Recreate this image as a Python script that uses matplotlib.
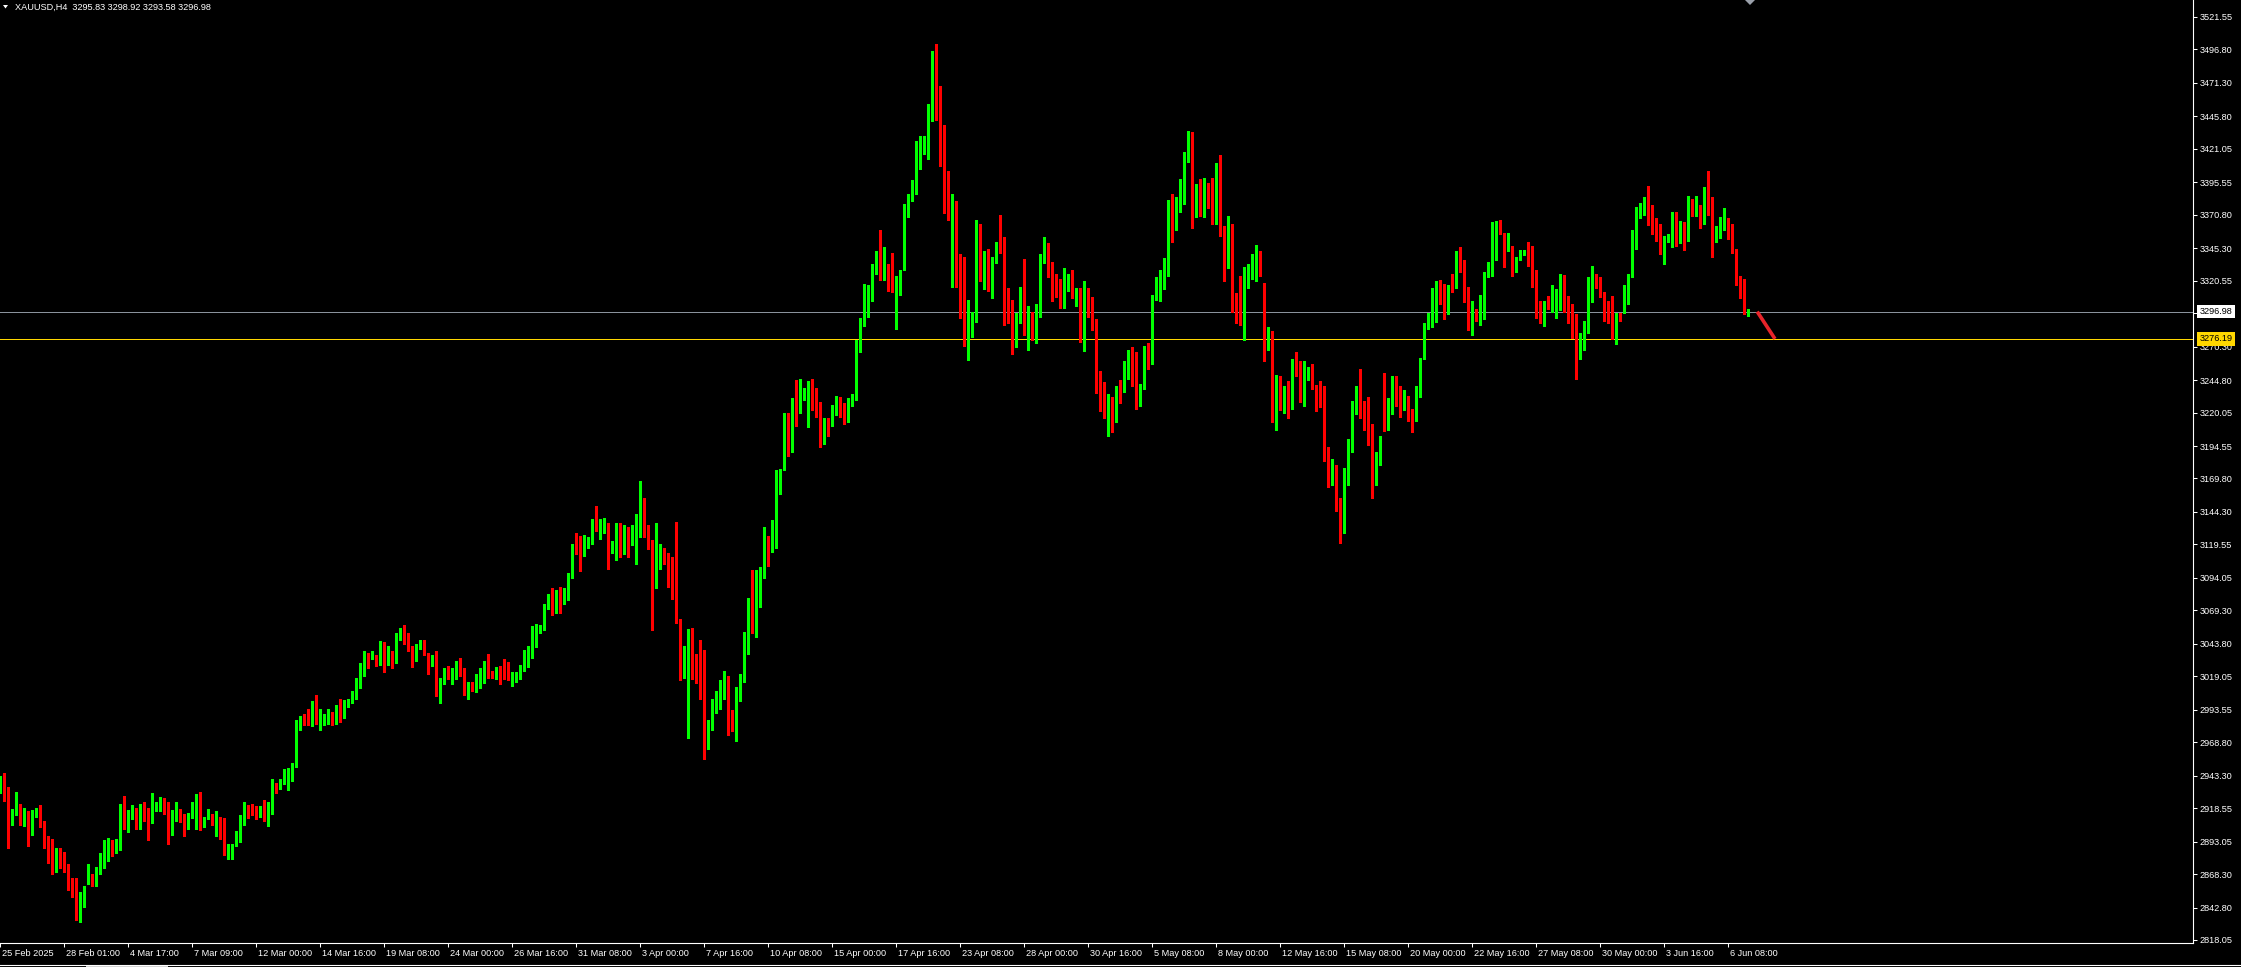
import matplotlib.pyplot as plt
import matplotlib.transforms as mtransforms
from matplotlib.lines import Line2D
from matplotlib.patches import Polygon, Rectangle
import numpy as np

#----- Data: XAUUSD H4 bars -----
opens = [
    2935, 2938, 2933, 2909, 2914, 2921, 2906, 2914, 2901, 2915,
    2916, 2907, 2894, 2893, 2872, 2888, 2877, 2874, 2864, 2863,
    2833, 2845, 2861, 2868, 2866, 2872, 2877, 2890, 2892, 2885,
    2887, 2915, 2903, 2911, 2918, 2903, 2917, 2913, 2909, 2917,
    2918, 2926, 2921, 2899, 2915, 2917, 2912, 2907, 2913, 2918,
    2927, 2906, 2911, 2912, 2909, 2912, 2904, 2886, 2888, 2890,
    2896, 2911, 2919, 2918, 2917, 2914, 2917, 2914, 2915, 2937,
    2933, 2938, 2940, 2948, 2950, 2979, 2988, 2988, 2986, 2999,
    2984, 2987, 2983, 2991, 2986, 2997, 2988, 2997, 3001, 3005,
    3012, 3020, 3034, 3033, 3034, 3029, 3045, 3030, 3034, 3029,
    3047, 3049, 3047, 3042, 3032, 3041, 3045, 3036, 3028, 3030,
    3006, 3013, 3023, 3021, 3021, 3024, 3023, 3007, 3013, 3012,
    3018, 3023, 3029, 3023, 3019, 3025, 3023, 3018, 3016, 3018,
    3019, 3023, 3029, 3040, 3041, 3053, 3057, 3073, 3078, 3072,
    3084, 3077, 3086, 3094, 3117, 3115, 3113, 3117, 3123, 3136,
    3131, 3132, 3134, 3113, 3114, 3134, 3118, 3132, 3122, 3123,
    3134, 3153, 3133, 3122, 3086, 3110, 3116, 3110, 3109, 3091,
    3063, 3025, 3023, 3039, 3032, 3025, 3016, 2970, 2982, 2999,
    3005, 3007, 3011, 2986, 2983, 3009, 3015, 3045, 3076, 3059,
    3080, 3094, 3123, 3117, 3117, 3163, 3176, 3208, 3196, 3228,
    3224, 3234, 3232, 3240, 3235, 3224, 3205, 3214, 3211, 3224,
    3225, 3223, 3213, 3228, 3230, 3270, 3290, 3304, 3311, 3328,
    3344, 3324, 3330, 3322, 3315, 3319, 3332, 3378, 3385, 3395,
    3420, 3423, 3426, 3453, 3495, 3455, 3419, 3403, 3337, 3380,
    3319, 3318, 3271, 3281, 3289, 3358, 3323, 3336, 3315, 3337,
    3352, 3346, 3295, 3293, 3281, 3293, 3326, 3281, 3295, 3275,
    3293, 3335, 3345, 3326, 3311, 3309, 3307, 3314, 3314, 3307,
    3310, 3275, 3310, 3306, 3290, 3240, 3237, 3218, 3225, 3214,
    3241, 3236, 3252, 3266, 3251, 3232, 3239, 3265, 3260, 3309,
    3315, 3316, 3336, 3381, 3362, 3383, 3392, 3415, 3433, 3374,
    3389, 3370, 3395, 3387, 3365, 3409, 3355, 3332, 3357, 3309,
    3308, 3291, 3321, 3325, 3330, 3342, 3309, 3271, 3282, 3215,
    3241, 3222, 3239, 3225, 3257, 3254, 3228, 3247, 3251, 3239,
    3234, 3233, 3188, 3170, 3178, 3150, 3130, 3170, 3193, 3220,
    3239, 3223, 3219, 3210, 3170, 3185, 3220, 3218, 3224, 3242,
    3231, 3226, 3231, 3221, 3214, 3236, 3261, 3286, 3290, 3295,
    3317, 3314, 3303, 3317, 3315, 3338, 3333, 3305, 3288, 3297,
    3294, 3305, 3323, 3329, 3340, 3363, 3355, 3344, 3347, 3329,
    3338, 3341, 3343, 3336, 3324, 3297, 3295, 3302, 3301, 3302,
    3307, 3325, 3306, 3297, 3288, 3263, 3272, 3281, 3313, 3325,
    3319, 3310, 3305, 3296, 3276, 3291, 3296, 3303, 3324, 3348,
    3370, 3374, 3384, 3373, 3366, 3358, 3345, 3354, 3355, 3372,
    3351, 3364, 3353, 3380, 3372, 3374, 3365, 3390, 3379, 3354,
    3355, 3364, 3366, 3358, 3344, 3324, 3314, 3295.83,
]
highs = [
    2943, 2945, 2935, 2918, 2931, 2922, 2919, 2916, 2917, 2919,
    2921, 2909, 2897, 2895, 2888, 2888, 2885, 2876, 2865, 2865,
    2855, 2859, 2876, 2868, 2874, 2884, 2894, 2896, 2894, 2895,
    2922, 2928, 2917, 2921, 2919, 2922, 2923, 2919, 2930, 2923,
    2927, 2926, 2923, 2917, 2923, 2918, 2914, 2915, 2923, 2929,
    2931, 2912, 2918, 2914, 2916, 2912, 2911, 2891, 2891, 2901,
    2913, 2923, 2921, 2922, 2920, 2920, 2925, 2923, 2941, 2938,
    2941, 2948, 2949, 2953, 2986, 2989, 2990, 2994, 3000, 3005,
    2994, 2990, 2994, 2992, 2997, 3002, 3001, 3002, 3008, 3018,
    3029, 3038, 3037, 3038, 3035, 3046, 3045, 3042, 3038, 3052,
    3056, 3058, 3052, 3042, 3044, 3047, 3047, 3037, 3035, 3038,
    3018, 3025, 3027, 3025, 3031, 3033, 3025, 3015, 3015, 3021,
    3025, 3031, 3036, 3023, 3026, 3027, 3032, 3030, 3022, 3022,
    3028, 3039, 3042, 3057, 3059, 3058, 3074, 3082, 3086, 3085,
    3087, 3086, 3098, 3120, 3128, 3126, 3127, 3125, 3139, 3149,
    3139, 3140, 3136, 3122, 3136, 3136, 3134, 3133, 3134, 3143,
    3168, 3155, 3134, 3123, 3136, 3120, 3117, 3113, 3110, 3137,
    3063, 3042, 3055, 3056, 3036, 3047, 3039, 2986, 3002, 3008,
    3016, 3023, 3019, 2993, 3011, 3021, 3053, 3079, 3100, 3100,
    3102, 3133, 3126, 3138, 3176, 3177, 3220, 3220, 3231, 3245,
    3246, 3239, 3244, 3246, 3239, 3228, 3216, 3216, 3226, 3233,
    3232, 3227, 3231, 3234, 3275, 3292, 3318, 3317, 3333, 3343,
    3359, 3346, 3333, 3342, 3324, 3329, 3379, 3387, 3397, 3427,
    3431, 3431, 3455, 3496, 3501, 3469, 3439, 3404, 3387, 3381,
    3341, 3339, 3306, 3297, 3367, 3364, 3343, 3345, 3339, 3350,
    3371, 3354, 3315, 3306, 3296, 3316, 3337, 3301, 3297, 3303,
    3341, 3354, 3349, 3335, 3326, 3322, 3330, 3326, 3329, 3315,
    3315, 3320, 3315, 3308, 3291, 3252, 3243, 3234, 3232, 3240,
    3245, 3259, 3268, 3270, 3266, 3242, 3271, 3273, 3310, 3323,
    3329, 3338, 3382, 3387, 3384, 3398, 3419, 3435, 3434, 3394,
    3398, 3399, 3395, 3399, 3410, 3416, 3362, 3370, 3364, 3311,
    3324, 3331, 3333, 3341, 3348, 3343, 3319, 3285, 3282, 3249,
    3248, 3240, 3244, 3261, 3266, 3259, 3259, 3255, 3257, 3241,
    3244, 3240, 3194, 3185, 3180, 3155, 3178, 3200, 3229, 3240,
    3253, 3229, 3232, 3211, 3190, 3202, 3250, 3231, 3248, 3248,
    3240, 3237, 3233, 3223, 3240, 3262, 3288, 3296, 3315, 3320,
    3321, 3318, 3317, 3326, 3343, 3346, 3336, 3316, 3305, 3299,
    3310, 3327, 3335, 3365, 3366, 3367, 3357, 3357, 3347, 3339,
    3344, 3344, 3350, 3347, 3329, 3305, 3305, 3309, 3317, 3314,
    3326, 3325, 3309, 3303, 3295, 3281, 3290, 3323, 3332, 3326,
    3323, 3312, 3305, 3309, 3296, 3296, 3317, 3326, 3359, 3377,
    3380, 3384, 3393, 3378, 3368, 3364, 3355, 3356, 3373, 3373,
    3366, 3365, 3385, 3383, 3385, 3378, 3392, 3404, 3384, 3362,
    3369, 3376, 3368, 3364, 3345, 3324, 3322, 3298.92,
]
lows = [
    2930, 2924, 2888, 2906, 2913, 2906, 2905, 2890, 2898, 2912,
    2904, 2888, 2877, 2868, 2870, 2873, 2870, 2856, 2851, 2833,
    2832, 2843, 2861, 2859, 2859, 2868, 2873, 2878, 2882, 2884,
    2887, 2903, 2900, 2910, 2903, 2903, 2909, 2894, 2907, 2916,
    2916, 2914, 2891, 2898, 2909, 2908, 2897, 2903, 2911, 2903,
    2902, 2904, 2910, 2906, 2897, 2895, 2883, 2880, 2880, 2890,
    2893, 2906, 2911, 2913, 2910, 2912, 2909, 2905, 2914, 2930,
    2933, 2937, 2932, 2939, 2950, 2978, 2982, 2982, 2981, 2983,
    2978, 2982, 2983, 2982, 2983, 2984, 2987, 2996, 2999, 3002,
    3010, 3019, 3025, 3032, 3027, 3028, 3022, 3028, 3025, 3029,
    3047, 3044, 3038, 3026, 3031, 3040, 3035, 3021, 3027, 3004,
    2999, 3013, 3017, 3013, 3017, 3019, 3005, 3002, 3008, 3007,
    3010, 3014, 3018, 3018, 3017, 3013, 3017, 3016, 3012, 3015,
    3017, 3023, 3026, 3033, 3041, 3052, 3054, 3070, 3066, 3067,
    3067, 3074, 3077, 3094, 3112, 3099, 3111, 3117, 3120, 3130,
    3124, 3128, 3101, 3113, 3108, 3110, 3112, 3110, 3119, 3105,
    3125, 3125, 3116, 3054, 3086, 3101, 3105, 3087, 3078, 3060,
    3016, 3018, 2972, 3017, 3014, 3002, 2956, 2964, 2978, 2991,
    2994, 3002, 2974, 2977, 2970, 3000, 3015, 3036, 3052, 3049,
    3072, 3094, 3103, 3114, 3117, 3158, 3176, 3187, 3190, 3210,
    3220, 3230, 3209, 3222, 3217, 3194, 3196, 3202, 3210, 3218,
    3217, 3211, 3213, 3225, 3230, 3266, 3286, 3293, 3305, 3326,
    3321, 3321, 3313, 3312, 3284, 3310, 3329, 3369, 3381, 3387,
    3406, 3417, 3413, 3442, 3443, 3408, 3372, 3367, 3316, 3316,
    3292, 3271, 3260, 3278, 3289, 3320, 3314, 3313, 3307, 3334,
    3342, 3287, 3288, 3265, 3270, 3288, 3279, 3268, 3275, 3273,
    3293, 3334, 3323, 3305, 3308, 3300, 3300, 3313, 3307, 3301,
    3274, 3267, 3293, 3283, 3235, 3221, 3216, 3202, 3205, 3213,
    3227, 3236, 3246, 3240, 3223, 3225, 3238, 3253, 3257, 3306,
    3305, 3314, 3324, 3350, 3359, 3373, 3379, 3411, 3361, 3369,
    3370, 3369, 3376, 3364, 3364, 3355, 3320, 3330, 3297, 3288,
    3287, 3275, 3315, 3322, 3320, 3324, 3259, 3268, 3213, 3207,
    3222, 3220, 3216, 3223, 3248, 3228, 3225, 3245, 3238, 3221,
    3224, 3183, 3163, 3165, 3145, 3121, 3128, 3165, 3190, 3219,
    3216, 3207, 3195, 3155, 3165, 3180, 3206, 3207, 3219, 3225,
    3217, 3222, 3214, 3205, 3214, 3232, 3261, 3284, 3285, 3289,
    3303, 3291, 3295, 3312, 3315, 3327, 3304, 3283, 3279, 3290,
    3287, 3291, 3323, 3324, 3336, 3356, 3331, 3343, 3324, 3327,
    3336, 3340, 3332, 3316, 3292, 3288, 3286, 3299, 3297, 3292,
    3298, 3297, 3288, 3277, 3246, 3261, 3268, 3281, 3304, 3315,
    3308, 3290, 3288, 3276, 3272, 3290, 3296, 3303, 3323, 3345,
    3368, 3371, 3363, 3356, 3351, 3341, 3333, 3350, 3346, 3347,
    3349, 3344, 3351, 3370, 3370, 3361, 3364, 3371, 3339, 3350,
    3353, 3359, 3352, 3342, 3317, 3307, 3295, 3293.58,
]
closes = [
    2938, 2932, 2909, 2916, 2921, 2906, 2913, 2901, 2916, 2916,
    2906, 2894, 2892, 2872, 2887, 2876, 2873, 2863, 2862, 2833,
    2845, 2859, 2868, 2866, 2872, 2877, 2890, 2894, 2885, 2887,
    2915, 2903, 2911, 2917, 2903, 2917, 2913, 2909, 2918, 2920,
    2926, 2920, 2899, 2916, 2917, 2911, 2907, 2915, 2919, 2927,
    2906, 2912, 2912, 2909, 2911, 2903, 2886, 2888, 2891, 2896,
    2912, 2919, 2917, 2915, 2915, 2917, 2914, 2917, 2937, 2933,
    2938, 2941, 2949, 2951, 2980, 2989, 2987, 2986, 2999, 2984,
    2987, 2988, 2991, 2986, 2997, 2988, 2998, 3001, 3006, 3012,
    3021, 3034, 3033, 3035, 3029, 3045, 3030, 3034, 3029, 3047,
    3049, 3047, 3041, 3032, 3042, 3045, 3035, 3028, 3030, 3006,
    3014, 3024, 3021, 3022, 3024, 3022, 3007, 3013, 3012, 3018,
    3024, 3029, 3022, 3019, 3025, 3022, 3018, 3016, 3019, 3020,
    3024, 3030, 3040, 3041, 3054, 3057, 3074, 3078, 3073, 3084,
    3077, 3084, 3095, 3117, 3115, 3113, 3118, 3124, 3136, 3131,
    3132, 3134, 3114, 3114, 3134, 3118, 3132, 3122, 3124, 3133,
    3153, 3132, 3122, 3086, 3110, 3114, 3109, 3108, 3090, 3061,
    3025, 3037, 3039, 3031, 3025, 3016, 2970, 2983, 3000, 3006,
    3007, 3011, 2985, 2982, 3010, 3016, 3045, 3076, 3059, 3079,
    3095, 3123, 3117, 3118, 3164, 3175, 3208, 3196, 3228, 3224,
    3234, 3238, 3240, 3234, 3224, 3205, 3214, 3211, 3225, 3225,
    3222, 3213, 3228, 3230, 3271, 3290, 3304, 3312, 3329, 3342,
    3324, 3330, 3321, 3315, 3320, 3328, 3378, 3386, 3396, 3421,
    3423, 3426, 3454, 3495, 3454, 3419, 3402, 3382, 3380, 3318,
    3317, 3271, 3282, 3290, 3358, 3323, 3336, 3315, 3337, 3350,
    3345, 3294, 3293, 3281, 3294, 3316, 3281, 3295, 3275, 3294,
    3336, 3343, 3326, 3310, 3309, 3307, 3315, 3317, 3307, 3310,
    3275, 3310, 3305, 3289, 3239, 3237, 3218, 3226, 3214, 3236,
    3236, 3252, 3266, 3250, 3231, 3241, 3265, 3260, 3309, 3315,
    3318, 3333, 3380, 3362, 3384, 3393, 3415, 3435, 3374, 3389,
    3370, 3395, 3386, 3365, 3409, 3355, 3332, 3357, 3308, 3305,
    3291, 3322, 3326, 3331, 3342, 3325, 3271, 3277, 3215, 3241,
    3222, 3234, 3225, 3257, 3253, 3228, 3248, 3252, 3239, 3234,
    3232, 3187, 3170, 3178, 3150, 3130, 3170, 3198, 3222, 3240,
    3223, 3218, 3209, 3170, 3185, 3201, 3218, 3224, 3242, 3230,
    3226, 3231, 3221, 3214, 3237, 3262, 3287, 3290, 3295, 3317,
    3313, 3303, 3317, 3314, 3338, 3333, 3304, 3288, 3297, 3294,
    3306, 3324, 3329, 3341, 3363, 3360, 3345, 3347, 3329, 3338,
    3341, 3343, 3336, 3324, 3296, 3296, 3302, 3299, 3302, 3308,
    3325, 3305, 3296, 3287, 3263, 3273, 3283, 3313, 3325, 3318,
    3310, 3303, 3295, 3276, 3291, 3290, 3304, 3324, 3349, 3371,
    3375, 3383, 3372, 3366, 3357, 3345, 3354, 3355, 3372, 3351,
    3364, 3353, 3380, 3372, 3374, 3364, 3390, 3379, 3354, 3355,
    3364, 3366, 3357, 3343, 3324, 3312, 3296, 3296.98,
]

date_labels = [ "25 Feb 2025", "28 Feb 01:00", "4 Mar 17:00", "7 Mar 09:00", "12 Mar 00:00",
                "14 Mar 16:00", "19 Mar 08:00", "24 Mar 00:00", "26 Mar 16:00", "31 Mar 08:00",
                "3 Apr 00:00", "7 Apr 16:00", "10 Apr 08:00", "15 Apr 00:00", "17 Apr 16:00",
                "23 Apr 08:00", "28 Apr 00:00", "30 Apr 16:00", "5 May 08:00", "8 May 00:00",
                "12 May 16:00", "15 May 08:00", "20 May 00:00", "22 May 16:00", "27 May 08:00",
                "30 May 00:00", "3 Jun 16:00", "6 Jun 08:00" ]
bars_per_label = 16

price_ticks = [ 3521.55, 3496.80, 3471.30, 3445.80, 3421.05, 3395.55, 3370.80, 3345.30,
                3320.55, 3295.80, 3270.30, 3244.80, 3220.05, 3194.55, 3169.80, 3144.30,
                3119.55, 3094.05, 3069.30, 3043.80, 3019.05, 2993.55, 2968.80, 2943.30,
                2918.55, 2893.05, 2868.30, 2842.80, 2818.05 ]

symbol = "XAUUSD,H4"
bid_price = 3296.98
level_price = 3276.19
# short red projection segment after the last bar
proj_bars = [ 439.3, 443.75 ]
proj_prices = [ 3296.98, 3276.19 ]


#----- Preferences -----
W, H = 2241, 967
bull_col = "#00ff00"
bear_col = "#ff0000"
fsize = 6.6
plt.rcParams[ "font.family" ] = [ "Liberation Sans", "DejaVu Sans" ]


#----- Figure -----
fig = plt.figure( figsize=(W/100, H/100), dpi=100, facecolor="black" )
ax = fig.add_axes( [ 0, 24/H, 2193/W, 943/H ], facecolor="black" )

o = np.array( opens )
c = np.array( closes )
x = np.arange( len(c) )
col = np.where( c >= o, bull_col, bear_col )

ax.vlines( x, lows, highs, colors=col, linewidth=0.75, antialiased=False, zorder=2 )
ax.bar( x, np.maximum( np.abs(c - o), 0.8 ), bottom=np.minimum( o, c ), width=0.72,
        color=col, linewidth=0, antialiased=False, zorder=2 )

ax.axhline( bid_price, color="#8a929c", linewidth=0.6, antialiased=False, zorder=1 )
ax.axhline( level_price, color="#ffd700", linewidth=0.6, antialiased=False, zorder=1 )
ax.plot( proj_bars, proj_prices, color="#e8242a", linewidth=2.6, solid_capstyle="butt", zorder=3 )

ax.set_xlim( 0, 2193/4 )
ax.set_ylim( 3521.55 - 926*0.7622, 3521.55 + 17*0.7622 )

#--- spines ---
for side in [ "left", "top" ]:
    ax.spines[ side ].set_visible( False )
for side in [ "right", "bottom" ]:
    ax.spines[ side ].set_color( "white" )
    ax.spines[ side ].set_linewidth( 0.8 )

#--- price axis ---
ax.yaxis.tick_right()
ax.set_yticks( price_ticks )
ax.set_yticklabels( [ "%.2f" % v for v in price_ticks ] )
ax.tick_params( axis="y", colors="white", length=3, width=0.75, pad=2, labelsize=fsize )

#--- time axis ---
ax.set_xticks( np.arange( len(date_labels) ) * bars_per_label )
ax.set_xticklabels( date_labels, ha="left" )
ax.tick_params( axis="x", colors="white", length=3, width=0.75, pad=1.5, labelsize=fsize )
shift = mtransforms.ScaledTranslation( 2/100, 0, fig.dpi_scale_trans )
for lbl in ax.get_xticklabels():
    lbl.set_transform( lbl.get_transform() + shift )

#--- price boxes on the axis ---
ytrans = mtransforms.blended_transform_factory( ax.transAxes, ax.transData )
ax.text( 1.003, bid_price, "%.2f" % bid_price, transform=ytrans, ha="left", va="center",
         fontsize=fsize, color="black", clip_on=False, zorder=5,
         bbox=dict( boxstyle="square,pad=0.25", fc="white", ec="none" ) )
ax.text( 1.003, level_price, "%.2f" % level_price, transform=ytrans, ha="left", va="center",
         fontsize=fsize, color="black", clip_on=False, zorder=5,
         bbox=dict( boxstyle="square,pad=0.25", fc="#ffd700", ec="none" ) )

#--- header ---
header = "%s  %.2f %.2f %.2f %.2f" % ( symbol, opens[-1], highs[-1], lows[-1], closes[-1] )
fig.text( 15/W, 1 - 7/H, header, color="white", fontsize=fsize, va="center", ha="left" )
fig.add_artist( Polygon( [ [3/W, 1-5/H], [8/W, 1-5/H], [5.5/W, 1-8.5/H] ], closed=True,
                         transform=fig.transFigure, fc="white", ec="none" ) )

#--- chart shift marker and window bottom edge ---
fig.add_artist( Polygon( [ [1745/W, 1.0], [1755/W, 1.0], [1750/W, 1-5/H] ], closed=True,
                         transform=fig.transFigure, fc="#9aa0aa", ec="none" ) )
fig.add_artist( Line2D( [0, 1], [2/H, 2/H], transform=fig.transFigure, color="white", linewidth=0.8 ) )
fig.add_artist( Rectangle( (86/W, 0), 82/W, 2/H, transform=fig.transFigure, fc="#d0d0d0", ec="none" ) )

fig.savefig( "out.png", dpi=100, facecolor="black" )
